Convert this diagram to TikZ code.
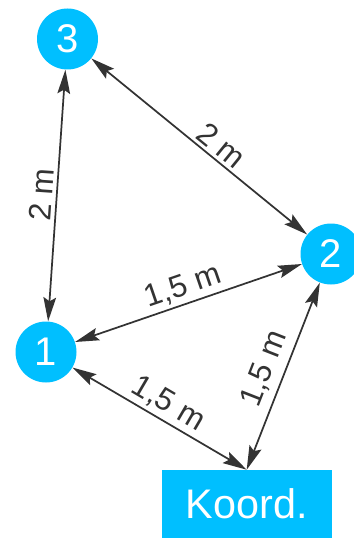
\documentclass[tikz,border=0pt]{standalone}
\usepackage{fontspec}
\setmainfont{Liberation Sans}
\usetikzlibrary{arrows.meta,positioning}
\definecolor{himmel}{HTML}{00BFFF}
\definecolor{strek}{HTML}{333333}
\tikzset{
  >={Stealth[length=18pt,width=9.5pt,inset=3pt]},
  % punkter
  punkt/.style={circle,fill=himmel,text=white,inner sep=0pt,minimum size=45.75pt,
                font=\fontsize{30}{30}\selectfont},
  koordbox/.style={rectangle,fill=himmel,text=white,inner sep=0pt,
                   minimum width=127.5pt,minimum height=51pt,font=\fontsize{31}{31}\selectfont},
  % avstander
  mal/.style={<->,draw=strek,line width=1.3pt},
  ml/.style={sloped,above,font=\fontsize{23.5}{23.5}\selectfont,text=strek,inner sep=2.5pt},
}
\begin{document}
\begin{tikzpicture}[x=0.75pt,y=-0.75pt]
  \useasboundingbox (0,0) rectangle (353,538);
  \node[punkt] (n3) at (67.5,39) {3};   \node[punkt] (n2) at (331,254) {2};
  \node[punkt] (n1) at (46,352) {1};    \node[koordbox] (koord) at (246.7,504) {Koord.};
  \draw[mal] (n1) -- node[ml] {2 m} (n3);
  \draw[mal] (n3) -- node[ml,pos=.56] {2 m} (n2);
  \draw[mal] (n1) -- node[ml] {1,5 m} (n2);
  \draw[mal] (n1) -- node[ml] {1,5 m} (koord.north);
  \draw[mal] (koord.north) -- node[ml,inner sep=5pt] {1,5 m} (n2);
\end{tikzpicture}
\end{document}
